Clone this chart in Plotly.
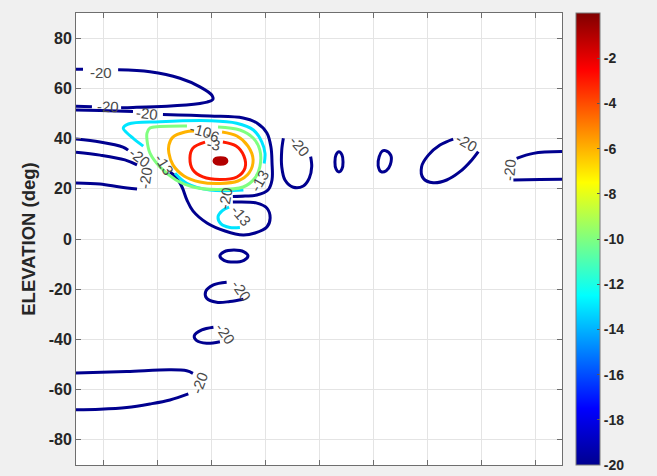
import plotly.graph_objects as go

# ---------------- data (azimuth deg, elevation deg) ----------------
levels = [-20, -13, -10, -6, -3, -1]

# -20 dB contour pieces
t1_az = [-90, -87.4, None, -74.4, -62.6, -51.5, -44.1, -39.7, -39.3, -41.5, -44.1, -56.3, -68.9, -73.3, None, -84.1, -90]
t1_el = [67.6, 67.6, None, 67.4, 66.6, 64.0, 60.6, 57.3, 55.6, 54.5, 54.0, 52.9, 52.4, 52.3, None, 52.7, 52.9]

env_az = [-90, -81.1, -68.9, None, -57.8, -40.4, -28.1, -23.0, -19.3, -17.8, -17.4, -17.4, -18.9, -23.0, -27.4, -31.9,
          None, -31.9, -23.0, -19.3, -18.1, -19.3, -23.7, -28.1, -34.8, -41.5, -46.7, -48.9, -50.7, -53.0, -55.2,
          None, -70.7, -72.6, -81.1, -90]
env_el = [51.4, 51.2, 50.8, None, 49.6, 49.0, 48.2, 46.2, 42.2, 36.6, 30.3, 23.5, 19.5, 17.5, 17.1, 16.9,
          None, 14.7, 14.3, 12.3, 8.4, 4.8, 2.4, 1.6, 3.2, 6.4, 11.2, 15.5, 20.6, 24.7, 26.7,
          None, 35.4, 36.6, 38.6, 39.8]

loop2_az = [-90, -81.1, -71.9, -67.4, None, -67.4, -73.7, -81.1, -90]
loop2_el = [34.6, 33.4, 31.5, 29.5, None, 19.9, 20.7, 21.9, 22.3]

u_az = [-13.2, -13.8, -13.8, -12.6, -9.5, -5.8, -3.6, -2.7, -3.1]
u_el = [40.1, 35.4, 28.8, 23.5, 20.6, 21.1, 24.2, 28.8, 32.8]

oval1_az = [7.4, 8.5, 8.9, 8.5, 7.4, 6.3, 5.9, 6.3, 7.4]
oval1_el = [34.7, 33.5, 30.7, 27.9, 26.7, 27.9, 30.7, 33.5, 34.7]

oval2_az = [24.6, 26.6, 26.4, 24.9, 23.0, 21.9, 22.3, 23.4, 24.6]
oval2_el = [35.2, 33.3, 29.6, 27.2, 26.8, 29.3, 32.8, 35.0, 35.2]

c_az = [49.7, 44.8, 40.5, 38.0, 38.6, 42.3, 47.3, 52.2, 56.6, 59.0]
c_el = [39.8, 37.4, 33.4, 28.8, 24.2, 22.4, 23.5, 26.8, 31.5, 34.8]

right_az = [90, 79.4, 73.2, None, 72.0, 81.9, 90]
right_el = [34.8, 34.1, 32.1, None, 23.5, 23.7, 23.8]

oval3_az = [-31.5, -27.8, -26.3, -27.8, -31.5, -35.2, -36.7, -35.2, -31.5]
oval3_el = [-4.4, -5.1, -6.8, -8.5, -9.2, -8.5, -6.8, -5.1, -4.4]

c2_az = [-34.2, -39.1, -42.0, -41.6, -37.9, -33.0, -28.0]
c2_el = [-17.2, -18.3, -21.0, -23.6, -25.2, -24.9, -24.0]

c3_az = [-39.1, -43.4, -46.2, -45.3, -41.6, -36.7]
c3_el = [-35.1, -36.2, -38.6, -40.5, -41.5, -40.9]

bottom_az = [-90, -71.2, -55.2, -49.0, -46.7, None, -48.4, -55.2, -62.6, -71.2, -81.1, -90]
bottom_el = [-53.4, -52.8, -52.1, -52.5, -53.5, None, -61.7, -64.1, -65.7, -67.1, -67.8, -68.0]

# -13 dB
cyan_az = [-20.3, -20.0, -21.2, -24.3, -30.5, -40.4, -58.9, -70.6, -72.5, -71.2, -68.8, -65.1, None, -53.3, -49.0, -40.4, -28.0]
cyan_el = [30.1, 34.1, 38.7, 43.4, 46.1, 47.1, 46.7, 45.8, 44.1, 42.3, 40.1, 37.0, None, 26.2, 22.2, 19.5, 19.5]
cyan2_az = [-33.3, -35.9, -37.4, -36.3, -33.0, -29.3]
cyan2_el = [12.7, 11.2, 8.8, 6.0, 4.6, 4.6]

# -10 dB
green_az = [-37.4, -29.3, -24.4, -21.9, -21.9, -23.7, -28.1, -37.8, -46.7, -53.0, -58.9, -62.6, -63.7, -63.7, -62.6, -58.9, -48.9]
green_el = [44.6, 43.4, 40.2, 35.4, 28.7, 24.3, 20.7, 19.7, 20.7, 23.5, 28.7, 34.2, 39.4, 42.2, 44.2, 44.8, 45.0]

# -6 dB
orange_az = [-35.9, -30.4, -26.3, -24.4, -25.9, -30.0, -36.7, -44.1, -50.0, -54.1, -55.6, -55.6, -54.1, -49.6, -46.3]
orange_el = [42.6, 41.0, 37.0, 31.5, 26.3, 23.1, 22.1, 22.7, 25.1, 29.5, 34.2, 37.4, 40.6, 42.6, 43.0]

# -3 dB
red_az = [-35.6, -30.7, -27.8, -27.4, -30.4, -36.7, -43.0, -46.7, -47.8, -46.7, -42.2]
red_el = [38.6, 37.0, 33.0, 28.3, 24.7, 23.7, 24.7, 27.5, 32.2, 36.2, 38.6]

# peak (-1 dB)
peak_az = [-38.9, -38.2, -36.5, -34.8, -34.1, -34.8, -36.5, -38.2, -38.9]
peak_el = [31.1, 32.1, 32.4, 32.1, 31.1, 30.1, 29.8, 30.1, 31.1]

# contour labels
label_text = ['-20', '-20', '-20', '-20', '-20', '-20', '-13', '-10', '-6', '-3',
              '-13', '-13', '-20', '-20', '-20', '-20', '-20', '-20']
label_az = [-80.6, -78.1, -63.7, -66.3, -34.8, -64.1, -57.4, -43.7, -39.3, -38.9,
            -21.9, -28.9, -7.0, 54.8, 70.7, -28.9, -34.8, -44.1]
label_el = [66.5, 52.9, 49.8, 32.6, 16.3, 24.3, 29.5, 43.4, 41.4, 37.8,
            23.1, 9.2, 37.0, 38.6, 27.5, -20.7, -37.8, -57.3]
label_angle = [0, 3, 6, 38, -80, -82, 58, 15, 20, 10, -60, 50, 50, 30, -85, 55, 55, -70]

axis_ticks = [-80, -60, -40, -20, 0, 20, 40, 60, 80]
cbar_ticks = [-2, -4, -6, -8, -10, -12, -14, -16, -18, -20]

# ---------------- styling ----------------
jet = [[0.0, '#00008f'], [0.125, '#0000ff'], [0.375, '#00ffff'],
       [0.625, '#ffff00'], [0.875, '#ff0000'], [1.0, '#800000']]
cmin, cmax = -20, 0


def jet_color(v):
    t = (v - cmin) / (cmax - cmin)
    def h2r(h):
        h = h.lstrip('#')
        return [int(h[i:i + 2], 16) for i in (0, 2, 4)]
    for (t0, c0), (t1, c1) in zip(jet[:-1], jet[1:]):
        if t0 <= t <= t1:
            f = (t - t0) / (t1 - t0)
            a, b = h2r(c0), h2r(c1)
            return 'rgb(%d,%d,%d)' % tuple(round(a[i] + f * (b[i] - a[i])) for i in range(3))
    return jet[-1][1]


pieces = [
    (-20, t1_az, t1_el), (-20, env_az, env_el), (-20, loop2_az, loop2_el),
    (-20, u_az, u_el), (-20, oval1_az, oval1_el), (-20, oval2_az, oval2_el),
    (-20, c_az, c_el), (-20, right_az, right_el), (-20, oval3_az, oval3_el),
    (-20, c2_az, c2_el), (-20, c3_az, c3_el), (-20, bottom_az, bottom_el),
    (-13, cyan_az, cyan_el), (-13, cyan2_az, cyan2_el),
    (-10, green_az, green_el), (-6, orange_az, orange_el),
    (-3, red_az, red_el),
]

fig = go.Figure()
for lvl, xs, ys in pieces:
    fig.add_trace(go.Scatter(
        x=xs, y=ys, mode='lines', connectgaps=False,
        line=dict(color=jet_color(lvl), width=3, shape='spline', smoothing=1.0),
        hoverinfo='skip', showlegend=False))

# peak contour (small closed loop, drawn filled like the reference blob)
fig.add_trace(go.Scatter(
    x=peak_az, y=peak_el, mode='lines', fill='toself', fillcolor='#b00000',
    line=dict(color=jet_color(levels[-1]), width=3, shape='spline', smoothing=1.0),
    hoverinfo='skip', showlegend=False))

# colorbar carrier (outside the visible range)
fig.add_trace(go.Scatter(
    x=[0, 0], y=[-500, -500], mode='markers', showlegend=False, hoverinfo='skip',
    marker=dict(color=[cmin, cmax], colorscale=jet, cmin=cmin, cmax=cmax, size=1,
                showscale=True,
                colorbar=dict(x=1.0288, xanchor='left', y=0.5, yanchor='middle',
                              len=1.0, lenmode='fraction', thickness=24, thicknessmode='pixels',
                              xpad=0, ypad=0, outlinewidth=1, outlinecolor='#7a7a7a',
                              tickvals=cbar_ticks,
                              ticktext=['<b>%d</b>' % v for v in cbar_ticks],
                              ticks='inside', ticklen=3, tickcolor='#555555',
                              tickfont=dict(family='Liberation Sans, Arial', size=14, color='#262626')))))

for txt, ax_, el_, ang in zip(label_text, label_az, label_el, label_angle):
    fig.add_annotation(x=ax_, y=el_, text=txt, showarrow=False, textangle=ang,
                       font=dict(family='Liberation Sans, Arial', size=15, color='#4a4a4a'),
                       xanchor='center', yanchor='middle')

fig.update_layout(
    width=657, height=476,
    margin=dict(l=76, r=95, t=13, b=11, autoexpand=False),
    paper_bgcolor='#f0f0f0', plot_bgcolor='white',
    showlegend=False,
    xaxis=dict(range=[-90, 90], tickvals=axis_ticks, showticklabels=False,
               showgrid=True, gridcolor='#e4e4e4', gridwidth=1, zeroline=False,
               showline=True, linecolor='#6e6e6e', linewidth=1, mirror='ticks',
               ticks='inside', ticklen=5, tickcolor='#6e6e6e'),
    yaxis=dict(range=[-90, 90], tickvals=axis_ticks,
               ticktext=['<b>%d</b>' % v for v in axis_ticks],
               tickfont=dict(family='Liberation Sans, Arial', size=16, color='#262626'),
               showgrid=True, gridcolor='#e4e4e4', gridwidth=1, zeroline=False,
               showline=True, linecolor='#6e6e6e', linewidth=1, mirror='ticks',
               ticks='inside', ticklen=5, tickcolor='#6e6e6e',
               title=dict(text='<b>ELEVATION (deg)</b>', standoff=8,
                          font=dict(family='Liberation Sans, Arial', size=18.5, color='#262626'))),
)

fig.write_html('out.html', config={'displayModeBar': False},
               post_script="document.body.style.margin='0';document.body.style.background='#f0f0f0';")
